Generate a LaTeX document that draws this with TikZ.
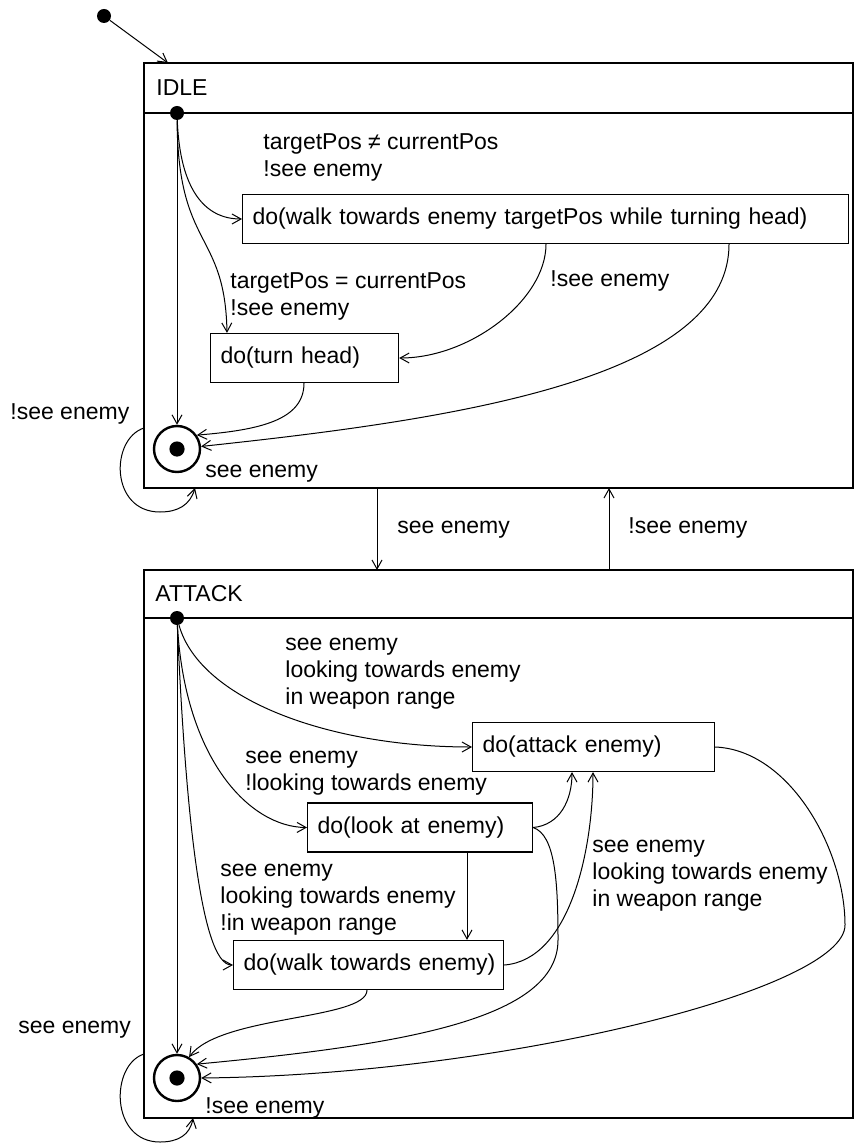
\documentclass[tikz,border=0pt]{standalone}
\usepackage{fontspec}
\setmainfont{Liberation Sans}
\usetikzlibrary{arrows.meta}

\tikzset{
  frame/.style={draw, line width=0.7pt, anchor=north west, inner sep=0pt, outer sep=0pt},
  act/.style={draw, line width=0.6pt, anchor=west, minimum height=24.5pt, inner xsep=5pt, align=left},
  ini/.style={circle, fill=black, minimum size=7pt, inner sep=0pt},
  fin/.style={circle, draw, line width=1.2pt, minimum size=23pt, inner sep=0pt,
    path picture={\fill (path picture bounding box.center) circle (3.8pt);}},
  tr/.style={-{Straight Barb[length=4.5pt,width=5pt]}, line width=0.5pt},
  lbl/.style={inner sep=0pt, align=left}
}

\begin{document}
\begin{tikzpicture}[x=0.5pt,y=-0.5pt,every node/.style={font=\fontsize{11.5}{13.5}\selectfont}]
  \useasboundingbox (0,0) rectangle (854,1144);

  % composite states
  \node[frame, minimum width=354.5pt, minimum height=212.5pt] (idle) at (144,63) {};
  \node[frame, minimum width=354.5pt, minimum height=274pt] (attack) at (144,570) {};
  \draw[line width=0.7pt] ([yshift=-25pt]idle.north west) -- ([yshift=-25pt]idle.north east);
  \draw[line width=0.7pt] ([yshift=-24pt]attack.north west) -- ([yshift=-24pt]attack.north east);
  \node[lbl, anchor=base west] (idlename) at (156,96) {IDLE};
  \node[lbl, anchor=base west] (attackname) at (155,601) {ATTACK};

  % pseudo states
  \node[ini] (start) at (104,16) {};
  \node[ini] (idleinit) at (177,113) {};
  \node[fin] (idlefin) at (177,449) {};
  \node[ini] (attinit) at (177,618) {};
  \node[fin] (attfin) at (177,1078) {};

  % activities
  \node[act, text width=293pt] (walkpos) at (242,219) {do(walk towards enemy targetPos while turning head)};
  \node[act, text width=84pt] (turnhead) at (210,358) {do(turn head)};
  \node[act, text width=111pt] (attackact) at (472,747) {do(attack enemy)};
  \node[act, text width=102.5pt] (lookat) at (307,827.5) {do(look at enemy)};
  \node[act, text width=125pt] (walkto) at (233,965) {\mbox{do(walk towards enemy)}};

  % IDLE transitions
  \draw[tr] (start) -- (idle.north west -| 168,0);
  \draw[tr] (idleinit) -- (idlefin);
  \draw[tr] (idleinit) .. controls (180,190) and (205,219) .. (walkpos.west);
  \draw[tr] (idleinit) .. controls (178,250) and (225,230) .. (turnhead.north west -| 227,0);
  \draw[tr] (walkpos.south west -| 546,0) .. controls (546,300) and (470,358) .. (turnhead.east);
  \draw[tr] (walkpos.south west -| 729,0) .. controls (729,380) and (450,420) .. (idlefin);
  \draw[tr] (turnhead.south west -| 304,0) .. controls (304,420) and (260,430) .. (idlefin.35);
  \draw[tr] (idle.west |- 0,428) .. controls (110,439) and (110,512) .. (160,512)
    .. controls (178,512) and (190,505) .. (idle.south west -| 195,0);

  \node[lbl, anchor=west] (neqlbl) at (263,157) {targetPos ≠ currentPos\\!see enemy};
  \node[lbl, anchor=west] (eqlbl) at (230,296) {targetPos = currentPos\\!see enemy};
  \node[lbl, anchor=base west] (nosee1) at (550,286) {!see enemy};
  \node[lbl, anchor=base west] (idleloop) at (10,419) {!see enemy};
  \node[lbl, anchor=base west] (see1) at (205,477) {see enemy};

  % between the states
  \coordinate (dn) at (377,0);
  \coordinate (up) at (609,0);
  \draw[tr] (idle.south -| dn) -- (attack.north -| dn);
  \draw[tr] (attack.north -| up) -- (idle.south -| up);
  \node[lbl, anchor=base west] (toattack) at (397,533) {see enemy};
  \node[lbl, anchor=base west] (toidle) at (628,533) {!see enemy};

  % ATTACK transitions
  \draw[tr] (attinit) -- (attfin);
  \draw[tr] (attinit) .. controls (200,700) and (330,747) .. (attackact.west);
  \draw[tr] (attinit) .. controls (185,760) and (250,827) .. (lookat.west);
  \draw[tr] (attinit) .. controls (185,800) and (200,965) .. (walkto.west);
  \draw[tr] (lookat.south -| 467,0) -- (walkto.north -| 467,0);
  \draw[tr] (lookat.east) .. controls (560,825) and (572,800) .. (attackact.south west -| 572,0);
  \draw[tr] (walkto.east) .. controls (570,960) and (593,850) .. (attackact.south west -| 593,0);
  \draw[tr] (lookat.east) .. controls (555,835) and (558,880) .. (558,940)
    .. controls (558,1020) and (400,1045) .. (attfin.35);
  \draw[tr] (walkto.south west -| 367,0) .. controls (367,1020) and (220,1015) .. (attfin.60);
  \draw[tr] (attackact.east) .. controls (790,750) and (845,850) .. (845,925)
    .. controls (845,990) and (500,1075) .. (attfin.east);
  \draw[tr] (attack.west |- 0,1054) .. controls (110,1065) and (110,1142) .. (160,1142)
    .. controls (178,1142) and (190,1135) .. (attack.south west -| 193,0);

  \node[lbl, anchor=west] (inrange) at (285,674) {see enemy\\looking towards enemy\\in weapon range};
  \node[lbl, anchor=west] (notlook) at (245,773.5) {see enemy\\!looking towards enemy};
  \node[lbl, anchor=west] (outrange) at (220,900) {see enemy\\looking towards enemy\\!in weapon range};
  \node[lbl, anchor=west] (inrange2) at (592,875.5) {see enemy\\looking towards enemy\\in weapon range};
  \node[lbl, anchor=base west] (attloop) at (18,1033) {see enemy};
  \node[lbl, anchor=base west] (see2) at (205,1113) {!see enemy};
\end{tikzpicture}
\end{document}
